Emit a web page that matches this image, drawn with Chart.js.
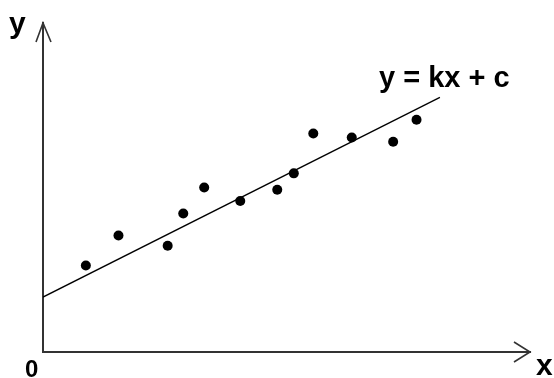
<!DOCTYPE html>
<html>
<head>
<meta charset="utf-8">
<script src="https://cdn.jsdelivr.net/npm/chart.js@4/dist/chart.umd.min.js"></script>
<style>
  html, body { margin: 0; padding: 0; background: #fff; }
  #wrap { width: 554px; height: 378px; }
</style>
</head>
<body>
<div id="wrap"><canvas id="fit"></canvas></div>
<script>
// measured points (x, y)
const pointX = [0.88, 1.55, 2.56, 2.88, 3.31, 4.05, 4.81, 5.15, 5.55, 6.34, 7.19, 7.67];
const pointY = [2.63, 3.54, 3.23, 4.21, 5.00, 4.59, 4.93, 5.43, 6.64, 6.52, 6.39, 7.06];
// fitted line y = kx + c, drawn between two ends
const lineX = [0, 8.15];
const lineY = [1.67, 7.74];
const axisMax = { x: 10, y: 10 };
const equation = "y = kx + c";

const pts = pointX.map((x, i) => ({ x: x, y: pointY[i] }));
const linePts = lineX.map((x, i) => ({ x: x, y: lineY[i] }));

// arrowheads and axis letters
const axisDeco = {
  id: "axisDeco",
  afterDraw(chart) {
    const ctx = chart.ctx;
    const a = chart.chartArea;
    ctx.save();
    ctx.strokeStyle = "#333";
    ctx.lineWidth = 1.6;
    ctx.beginPath();
    ctx.moveTo(a.left - 7, a.top + 19);
    ctx.lineTo(a.left, a.top);
    ctx.lineTo(a.left + 8, a.top + 19);
    ctx.moveTo(a.right - 16, a.bottom - 10);
    ctx.lineTo(a.right, a.bottom);
    ctx.lineTo(a.right - 16, a.bottom + 10);
    ctx.stroke();

    ctx.fillStyle = "#000";
    ctx.textBaseline = "alphabetic";
    ctx.textAlign = "left";
    ctx.font = "bold 30px 'Liberation Sans', Arial, sans-serif";
    ctx.fillText("y", 9, 33);
    ctx.fillText("x", 536, 375);
    ctx.font = "bold 24px 'Liberation Sans', Arial, sans-serif";
    ctx.fillText("0", 25, 377);
    ctx.font = "bold 29px 'Liberation Sans', Arial, sans-serif";
    ctx.fillText(equation, 379, 87);
    ctx.restore();
  }
};

const hiddenAxis = (max) => ({
  type: "linear",
  min: 0,
  max: max,
  ticks: { display: false },
  grid: { display: false, drawTicks: false },
  border: { display: true, color: "#333", width: 2 }
});

new Chart(document.getElementById("fit"), {
  type: "scatter",
  data: {
    datasets: [
      {
        type: "line",
        data: linePts,
        borderColor: "#000",
        borderWidth: 1.3,
        pointRadius: 0,
        fill: false
      },
      {
        data: pts,
        backgroundColor: "#000",
        borderWidth: 0,
        pointRadius: 5
      }
    ]
  },
  options: {
    responsive: true,
    maintainAspectRatio: false,
    animation: false,
    layout: { padding: { left: 43, right: 24, top: 23, bottom: 26 } },
    plugins: { legend: { display: false }, tooltip: { enabled: false } },
    scales: {
      x: hiddenAxis(axisMax.x),
      y: hiddenAxis(axisMax.y)
    }
  },
  plugins: [axisDeco]
});
</script>
</body>
</html>
